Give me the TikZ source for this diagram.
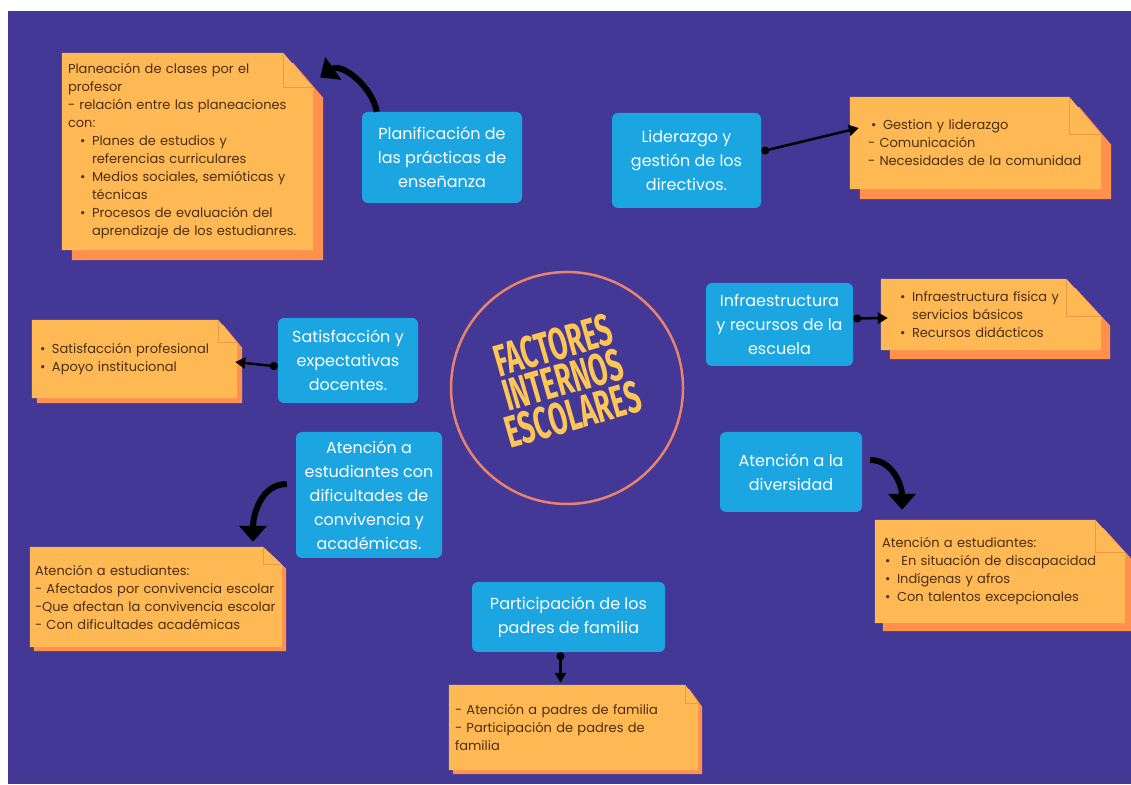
\documentclass[tikz,border=0pt]{standalone}
\usepackage{fontspec}
\usepackage{graphicx}
\setmainfont{Poppins}
\newfontfamily\titlefont{Fira Sans}
\usetikzlibrary{arrows.meta, backgrounds}

\definecolor{bgpurple}{HTML}{433896}
\definecolor{boxblue}{HTML}{1BA6E2}
\definecolor{notefront}{HTML}{FFB954}
\definecolor{noteback}{HTML}{FF914D}
\definecolor{notefold}{HTML}{E89A45}
\definecolor{notetext}{HTML}{4B2E12}
\definecolor{ringcolor}{HTML}{E9826E}
\definecolor{titlecolor}{HTML}{FFC555}

\newcommand{\notebullet}{\makebox[12pt][l]{\textbullet}}
% sheet behind a note: #1 node, #2/#3 size of the folded corner, #4 offset of the back sheet
\newcommand{\notesheet}[4]{%
    \fill[noteback] ([shift={(#4,-#4)}]#1.south west) -- ([shift={(#4,-#4)}]#1.south east)
        -- ([shift={(#4,-#4-#3)}]#1.north east) -- ([shift={(#4-#2,-#4)}]#1.north east)
        -- ([shift={(#4,-#4)}]#1.north west) -- cycle;
    \fill[notefront] (#1.south west) -- (#1.south east) -- ([yshift=-#3]#1.north east)
        -- ([xshift=-#2]#1.north east) -- (#1.north west) -- cycle;
    \draw[notefold, line width=0.6pt] ([xshift=-#2]#1.north east) |- ([yshift=-#3]#1.north east);
}

\begin{document}
\begin{tikzpicture}[
        x=1pt, y=1pt,
        topic box/.style={fill=boxblue, rounded corners=6pt, text=white, align=center, inner sep=0pt, font=\fontsize{16}{24}\selectfont},
        note/.style={rectangle, inner sep=0pt, text=notetext, align=left, font=\fontsize{13}{18}\selectfont},
        link/.style={{Circle[length=8pt]}-{Triangle[length=10pt, width=11pt]}, line width=2.5pt, black},
        bend arrow/.style={-{Triangle[length=16pt, width=27pt]}, line width=6pt, black}
    ]

    % Page and background
    \useasboundingbox (0,0) rectangle (1131,784);
    \begin{scope}[on background layer]
        \fill[white] (0,0) rectangle (1131,784);
        \fill[bgpurple] (8,0) rectangle (1131,773);
    \end{scope}

    % Central Nodes
    \node[draw=ringcolor, line width=2.5pt, circle, minimum size=232pt] (ring) at (567,396) {};
    \node[rotate=16, text=titlecolor, align=center, font=\titlefont\bfseries\fontsize{45}{36}\selectfont] (title) at (563,404)
        {\scalebox{0.6}[1]{FACTORES}\\\scalebox{0.6}[1]{INTERNOS}\\\scalebox{0.6}[1]{ESCOLARES}};

    % Factors (blue boxes)
    \node[topic box, minimum width=160pt, minimum height=91pt] (practicas) at (442,626.5) {Planificación de\\las prácticas de\\enseñanza};
    \node[topic box, minimum width=149pt, minimum height=95pt] (liderazgo) at (686.5,623.5) {Liderazgo y\\gestión de los\\directivos.};
    \node[topic box, minimum width=140pt, minimum height=85pt] (satisfaccion) at (348,423.5) {Satisfacción y\\expectativas\\docentes.};
    \node[topic box, minimum width=147pt, minimum height=83pt] (infraestructura) at (779.5,459.5) {Infraestructura\\y recursos de la\\escuela};
    \node[topic box, minimum width=146pt, minimum height=126pt] (convivencia) at (369,289) {Atención a\\estudiantes con\\dificultades de\\convivencia y\\académicas.};
    \node[topic box, minimum width=142pt, minimum height=80pt] (diversidad) at (791,312) {Atención a la\\diversidad};
    \node[topic box, minimum width=193pt, minimum height=70pt] (padres) at (568.5,167) {Participación de los\\padres de familia};

    % Notes
    \node[note, text width=239pt, minimum width=251pt, minimum height=197pt] (planeacion) at (187.5,632.5)
        {Planeación de clases por el\\
        profesor\\
        - relación entre las planeaciones\\
        con:\\
        \hspace*{12pt}\notebullet Planes de estudios y\\
        \hspace*{24pt}referencias curriculares\\
        \hspace*{12pt}\notebullet Medios sociales, semióticas y\\
        \hspace*{24pt}técnicas\\
        \hspace*{12pt}\notebullet Procesos de evaluación del\\
        \hspace*{24pt}aprendizaje de los estudianres.};
    \node[note, text width=215pt, minimum width=251pt, minimum height=92pt] (gestion) at (975.5,641)
        {\hspace*{3pt}\notebullet Gestion y liderazgo\\
        - Comunicación\\
        \mbox{- Necesidades de la comunidad}};
    \node[note, text width=189pt, minimum width=205pt, minimum height=78pt] (apoyo) at (134.5,425)
        {\notebullet Satisfacción profesional\\
        \notebullet Apoyo institucional};
    \node[note, text width=182pt, minimum width=220pt, minimum height=71pt] (recursos) at (991,469.5)
        {\notebullet Infraestructura física y\\
        \hspace*{12pt}servicios básicos\\
        \notebullet Recursos didácticos};
    \node[note, text width=242pt, minimum width=252pt, minimum height=100pt] (estudiantes) at (156,187)
        {Atención a estudiantes:\\
        \mbox{- Afectados por convivencia escolar}\\
        \mbox{-Que afectan la convivencia escolar}\\
        - Con dificultades académicas};
    \node[note, text width=236pt, minimum width=250pt, minimum height=103pt] (inclusion) at (1000,212.5)
        {Atención a estudiantes:\\
        \hspace*{3pt}\notebullet\ En situación de discapacidad\\
        \hspace*{3pt}\notebullet Indígenas y afros\\
        \hspace*{3pt}\notebullet Con talentos excepcionales};
    \node[note, text width=237pt, minimum width=249pt, minimum height=85pt] (familia) at (573.5,56.5)
        {- Atención a padres de familia\\
        - Participación de padres de\\
        familia};

    % Sheets behind the notes
    \begin{scope}[on background layer]
        \notesheet{planeacion}{30pt}{35pt}{10pt}
        \notesheet{gestion}{32pt}{38pt}{10pt}
        \notesheet{apoyo}{19pt}{23pt}{5pt}
        \notesheet{recursos}{35pt}{38pt}{9pt}
        \notesheet{estudiantes}{19pt}{18pt}{4pt}
        \notesheet{inclusion}{30pt}{33pt}{8pt}
        \notesheet{familia}{13pt}{18pt}{4pt}
    \end{scope}

    % Connect factors to their notes
    \draw[bend arrow] ([xshift=15pt]practicas.north west) to[out=100, in=35] ([xshift=7pt, yshift=74pt]planeacion.east);
    \draw[link] ([yshift=9pt]liderazgo.east) -- ([xshift=9pt, yshift=15pt]gestion.west);
    \draw[link] ([yshift=-6pt]satisfaccion.west) -- ([xshift=-2pt, yshift=-3pt]apoyo.east);
    \draw[link] ([yshift=6pt]infraestructura.east) -- ([xshift=7pt, yshift=-3.5pt]recursos.west);
    \draw[bend arrow] ([xshift=-9pt, yshift=11pt]convivencia.west) to[out=180, in=90] ([xshift=97pt, yshift=5pt]estudiantes.north);
    \draw[bend arrow] ([xshift=8pt, yshift=12pt]diversidad.east) to[out=0, in=90] ([xshift=-98pt, yshift=10pt]inclusion.north);
    \draw[link] ([xshift=-8pt]padres.south) -- ([xshift=-13pt, yshift=2pt]familia.north);

\end{tikzpicture}
\end{document}
